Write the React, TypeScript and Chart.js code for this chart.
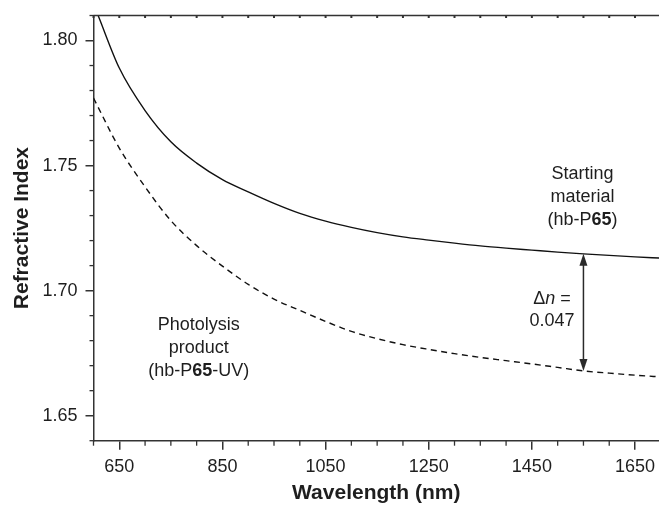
import { useEffect, useRef } from "react";
import { Chart, registerables } from "chart.js";

Chart.register(...registerables);

// ---------- data ----------
const WAVELENGTH_START = [609, 650, 700, 750, 800, 850, 900, 950, 1000, 1050, 1100, 1150, 1200, 1250, 1300, 1350, 1400, 1450, 1500, 1550, 1600, 1650, 1700];
const STARTING_MATERIAL = [1.81, 1.789, 1.772, 1.7595, 1.751, 1.7444, 1.7395, 1.7349, 1.7309, 1.7278, 1.7253, 1.7232, 1.7215, 1.7202, 1.719, 1.7179, 1.717, 1.7162, 1.7154, 1.7147, 1.7141, 1.7135, 1.713];

const WAVELENGTH_PRODUCT = [600, 650, 700, 750, 800, 850, 900, 950, 1000, 1050, 1100, 1150, 1200, 1250, 1300, 1350, 1400, 1450, 1500, 1550, 1600, 1650, 1700];
const PHOTOLYSIS_PRODUCT = [1.777, 1.757, 1.7415, 1.728, 1.718, 1.7098, 1.7025, 1.6966, 1.6921, 1.6877, 1.6837, 1.6808, 1.6784, 1.6765, 1.6748, 1.6733, 1.672, 1.6707, 1.6693, 1.6679, 1.667, 1.6662, 1.6655];

const X_MIN = 600;
const X_MAX = 1696.5;
const Y_MIN = 1.64;
const Y_MAX = 1.81;

const X_MAJOR_TICKS = [650, 850, 1050, 1250, 1450, 1650];
const X_MINOR_TICKS = [600, 700, 750, 800, 900, 950, 1000, 1100, 1150, 1200, 1300, 1350, 1400, 1500, 1550, 1600];
const X_TOP_TICKS = [600, 650, 700, 750, 800, 850, 900, 950, 1000, 1050, 1100, 1150, 1200, 1250, 1300, 1350, 1400, 1450, 1500, 1550, 1600, 1650];
const Y_MAJOR_TICKS = [1.65, 1.7, 1.75, 1.8];
const Y_MINOR_TICKS = [1.64, 1.66, 1.67, 1.68, 1.69, 1.71, 1.72, 1.73, 1.74, 1.76, 1.77, 1.78, 1.79, 1.81];

const X_TITLE = "Wavelength (nm)";
const Y_TITLE = "Refractive Index";

type Seg = { text: string; weight?: string; style?: string };

const STARTING_LABEL: Seg[][] = [
  [{ text: "Starting" }],
  [{ text: "material" }],
  [{ text: "(hb-P" }, { text: "65", weight: "bold" }, { text: ")" }],
];
const STARTING_LABEL_AT = { x: 1548, y: 1.7375 };

const PRODUCT_LABEL: Seg[][] = [
  [{ text: "Photolysis" }],
  [{ text: "product" }],
  [{ text: "(hb-P" }, { text: "65", weight: "bold" }, { text: "-UV)" }],
];
const PRODUCT_LABEL_AT = { x: 804, y: 1.6772 };

const DELTA_LABEL: Seg[][] = [
  [{ text: "\u0394" }, { text: "n", style: "italic" }, { text: " =" }],
  [{ text: "0.047" }],
];
const DELTA_LABEL_AT = { x: 1489, y: 1.6922 };
const DELTA_WAVELENGTH = 1550;

// ---------- styling ----------
const FAMILY = '"Liberation Sans", Arial, Helvetica, sans-serif';
const AXIS_COLOR = "#333";
const TEXT_COLOR = "#1e1e1e";

function drawRichLines(ctx: CanvasRenderingContext2D, lines: Seg[][], cx: number, cy: number, size: number, lineGap: number) {
  const n = lines.length;
  lines.forEach((segs, li) => {
    const y = cy + (li - (n - 1) / 2) * lineGap;
    const fontFor = (s: Seg) => `${s.style || "normal"} ${s.weight || "normal"} ${size}px ${FAMILY}`;
    let total = 0;
    const widths = segs.map((s) => {
      ctx.font = fontFor(s);
      const w = ctx.measureText(s.text).width;
      total += w;
      return w;
    });
    let x = cx - total / 2;
    segs.forEach((s, i) => {
      ctx.font = fontFor(s);
      ctx.fillText(s.text, x, y);
      x += widths[i];
    });
  });
}

const decorPlugin = {
  id: "decor",
  afterDraw(chart: any) {
    const ctx: CanvasRenderingContext2D = chart.ctx;
    const xs = chart.scales.x;
    const ys = chart.scales.y;
    const { left, right, top, bottom } = chart.chartArea;
    ctx.save();
    ctx.strokeStyle = AXIS_COLOR;
    ctx.lineWidth = 1.5;
    // top frame line
    ctx.beginPath();
    ctx.moveTo(left, top);
    ctx.lineTo(right, top);
    ctx.stroke();
    // top inward ticks
    ctx.lineWidth = 2;
    X_TOP_TICKS.forEach((v) => {
      const px = xs.getPixelForValue(v);
      ctx.beginPath();
      ctx.moveTo(px, top);
      ctx.lineTo(px, top + 2.5);
      ctx.stroke();
    });
    // minor ticks
    ctx.lineWidth = 1.3;
    X_MINOR_TICKS.forEach((v) => {
      const px = xs.getPixelForValue(v);
      ctx.beginPath();
      ctx.moveTo(px, bottom);
      ctx.lineTo(px, bottom + 5);
      ctx.stroke();
    });
    Y_MINOR_TICKS.forEach((v) => {
      const py = ys.getPixelForValue(v);
      ctx.beginPath();
      ctx.moveTo(left, py);
      ctx.lineTo(left - 4, py);
      ctx.stroke();
    });

    // delta-n arrow
    const i1 = WAVELENGTH_START.indexOf(DELTA_WAVELENGTH);
    const i2 = WAVELENGTH_PRODUCT.indexOf(DELTA_WAVELENGTH);
    const ax = xs.getPixelForValue(DELTA_WAVELENGTH);
    const ay1 = ys.getPixelForValue(STARTING_MATERIAL[i1]);
    const ay2 = ys.getPixelForValue(PHOTOLYSIS_PRODUCT[i2]);
    const headL = 12;
    const headW = 4;
    ctx.strokeStyle = "#2a2a2a";
    ctx.fillStyle = "#2a2a2a";
    ctx.lineWidth = 1.5;
    ctx.beginPath();
    ctx.moveTo(ax, ay1 + headL - 1);
    ctx.lineTo(ax, ay2 - headL + 1);
    ctx.stroke();
    ctx.beginPath();
    ctx.moveTo(ax, ay1);
    ctx.lineTo(ax - headW, ay1 + headL);
    ctx.lineTo(ax + headW, ay1 + headL);
    ctx.closePath();
    ctx.fill();
    ctx.beginPath();
    ctx.moveTo(ax, ay2);
    ctx.lineTo(ax - headW, ay2 - headL);
    ctx.lineTo(ax + headW, ay2 - headL);
    ctx.closePath();
    ctx.fill();

    // labels
    ctx.fillStyle = TEXT_COLOR;
    ctx.textAlign = "left";
    ctx.textBaseline = "middle";
    drawRichLines(ctx, STARTING_LABEL, xs.getPixelForValue(STARTING_LABEL_AT.x), ys.getPixelForValue(STARTING_LABEL_AT.y), 18, 23);
    drawRichLines(ctx, PRODUCT_LABEL, xs.getPixelForValue(PRODUCT_LABEL_AT.x), ys.getPixelForValue(PRODUCT_LABEL_AT.y), 18, 23);
    drawRichLines(ctx, DELTA_LABEL, xs.getPixelForValue(DELTA_LABEL_AT.x), ys.getPixelForValue(DELTA_LABEL_AT.y), 18, 22);
    ctx.restore();
  },
};

export default function App() {
  const ref = useRef<HTMLCanvasElement | null>(null);

  useEffect(() => {
    if (!ref.current) return;
    const chart = new Chart(ref.current, {
      type: "line",
      data: {
        datasets: [
          {
            label: "Starting material (hb-P65)",
            data: WAVELENGTH_START.map((x, i) => ({ x, y: STARTING_MATERIAL[i] })),
            borderColor: "#111",
            borderWidth: 1.4,
            pointRadius: 0,
            fill: false,
            cubicInterpolationMode: "monotone",
          },
          {
            label: "Photolysis product (hb-P65-UV)",
            data: WAVELENGTH_PRODUCT.map((x, i) => ({ x, y: PHOTOLYSIS_PRODUCT[i] })),
            borderColor: "#111",
            borderWidth: 1.4,
            borderDash: [6, 4.5],
            pointRadius: 0,
            fill: false,
            cubicInterpolationMode: "monotone",
          },
        ],
      },
      options: {
        responsive: false,
        animation: false,
        devicePixelRatio: 1,
        layout: { padding: { top: 15.5, left: 0, right: 0, bottom: 0 } },
        plugins: { legend: { display: false }, tooltip: { enabled: false } },
        scales: {
          x: {
            type: "linear",
            min: X_MIN,
            max: X_MAX,
            afterBuildTicks: (s: any) => {
              s.ticks = X_MAJOR_TICKS.map((v) => ({ value: v }));
            },
            afterFit: (s: any) => {
              s.height = 65.3;
              s.paddingLeft = 0;
              s.paddingRight = 0;
            },
            grid: { display: true, drawOnChartArea: false, drawTicks: true, tickLength: 9, color: AXIS_COLOR, lineWidth: 1.5 },
            border: { display: true, color: AXIS_COLOR, width: 1.5 },
            ticks: {
              color: TEXT_COLOR,
              font: { family: FAMILY, size: 18 },
              padding: 7,
              maxRotation: 0,
              autoSkip: false,
              callback: (v: any) => String(v),
            },
            title: {
              display: true,
              text: X_TITLE,
              color: TEXT_COLOR,
              font: { family: FAMILY, size: 21, weight: "bold" },
              padding: { top: 0, bottom: 0 },
            },
          },
          y: {
            type: "linear",
            min: Y_MIN,
            max: Y_MAX,
            afterBuildTicks: (s: any) => {
              s.ticks = Y_MAJOR_TICKS.map((v) => ({ value: v }));
            },
            afterFit: (s: any) => {
              s.width = 93.5;
              s.paddingTop = 0;
              s.paddingBottom = 0;
            },
            grid: { display: true, drawOnChartArea: false, drawTicks: true, tickLength: 8, color: AXIS_COLOR, lineWidth: 1.5 },
            border: { display: true, color: AXIS_COLOR, width: 1.5 },
            ticks: {
              color: TEXT_COLOR,
              font: { family: FAMILY, size: 18 },
              padding: 8,
              autoSkip: false,
              callback: (v: any) => Number(v).toFixed(2),
            },
            title: {
              display: true,
              text: Y_TITLE,
              color: TEXT_COLOR,
              font: { family: FAMILY, size: 21, weight: "bold" },
              padding: { top: 10, bottom: 0 },
            },
          },
        },
      },
      plugins: [decorPlugin],
    } as any);
    return () => chart.destroy();
  }, []);

  return (
    <div style={{ position: "fixed", left: 0, top: 0, width: 659, height: 506, background: "#fff" }}>
      <canvas ref={ref} width={659} height={506} style={{ width: 659, height: 506, display: "block" }} />
    </div>
  );
}
